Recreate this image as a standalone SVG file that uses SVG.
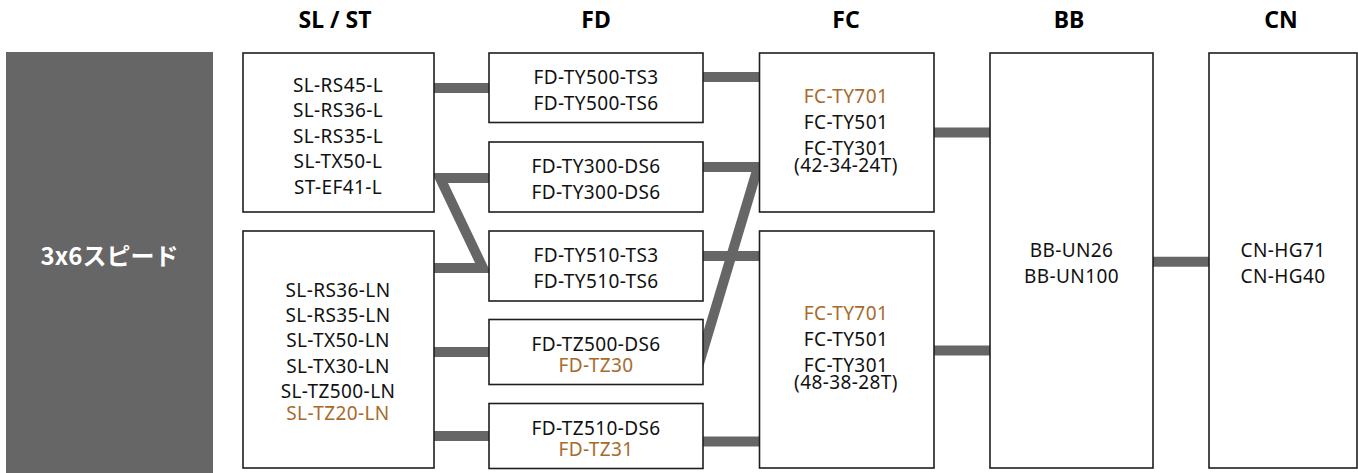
<svg xmlns="http://www.w3.org/2000/svg" width="1358" height="473" viewBox="0 0 1358 473">
<style>
.bx{fill:#fff;stroke:#1e1e1e;stroke-width:1.6}
.hd{font-family:"Noto Sans","Open Sans",sans-serif;font-weight:700;font-size:23px;fill:#000;text-anchor:middle}
.t{font-family:"Noto Sans","Open Sans",sans-serif;font-size:19px;letter-spacing:0.4px;fill:#111;text-anchor:middle}
.o{fill:#a86a2c}
.c{fill:none;stroke:#666;stroke-width:10;stroke-linejoin:miter;stroke-miterlimit:10}
</style>
<rect width="1358" height="473" fill="#fff"/>
<g id="headers">
<text class="hd" x="335" y="28">SL / ST</text>
<text class="hd" x="596" y="28">FD</text>
<text class="hd" x="846" y="28">FC</text>
<text class="hd" x="1069" y="28">BB</text>
<text class="hd" x="1281" y="28">CN</text>
</g>
<g id="connectors">
<line class="c" x1="430" y1="88" x2="493" y2="88"/>
<line class="c" x1="699" y1="77" x2="763" y2="77"/>
<polyline class="c" points="493,178 440,178 483,268 430,268"/>
<polyline class="c" points="699,167 758,167 698,367"/>
<line class="c" x1="699" y1="256" x2="763" y2="256"/>
<line class="c" x1="430" y1="352" x2="493" y2="352"/>
<line class="c" x1="430" y1="436" x2="493" y2="436"/>
<line class="c" x1="699" y1="441.5" x2="763" y2="441.5"/>
<line class="c" x1="930" y1="132.5" x2="994" y2="132.5"/>
<line class="c" x1="930" y1="350.5" x2="994" y2="350.5"/>
<line class="c" x1="1149" y1="261.7" x2="1213" y2="261.7"/>
</g>
<g id="speed">
<rect x="6" y="52" width="207" height="421" fill="#666"/>
<text x="109.5" y="265" font-family="'Noto Sans CJK JP',sans-serif" font-weight="700" font-size="24" fill="#fff" text-anchor="middle">3x6スピード</text>
</g>
<g id="sl1">
<rect class="bx" x="243" y="53" width="191" height="159"/>
<text class="t" x="338"><tspan x="338" y="91.5">SL-RS45-L</tspan><tspan x="338" y="117">SL-RS36-L</tspan><tspan x="338" y="142.5">SL-RS35-L</tspan><tspan x="338" y="168">SL-TX50-L</tspan><tspan x="338" y="193.5">ST-EF41-L</tspan></text>
</g>
<g id="sl2">
<rect class="bx" x="243" y="231" width="191" height="237"/>
<text class="t" x="338"><tspan x="338" y="296.7">SL-RS36-LN</tspan><tspan x="338" y="321.7">SL-RS35-LN</tspan><tspan x="338" y="347">SL-TX50-LN</tspan><tspan x="338" y="372.7">SL-TX30-LN</tspan><tspan x="338" y="397.7">SL-TZ500-LN</tspan><tspan class="o" x="338" y="420">SL-TZ20-LN</tspan></text>
</g>
<g id="fd1">
<rect class="bx" x="489" y="53" width="214" height="69.5"/>
<text class="t"><tspan x="596" y="84">FD-TY500-TS3</tspan><tspan x="596" y="110">FD-TY500-TS6</tspan></text>
</g>
<g id="fd2">
<rect class="bx" x="489" y="142" width="214" height="70"/>
<text class="t"><tspan x="596" y="173">FD-TY300-DS6</tspan><tspan x="596" y="199">FD-TY300-DS6</tspan></text>
</g>
<g id="fd3">
<rect class="bx" x="489" y="231" width="214" height="70"/>
<text class="t"><tspan x="596" y="262">FD-TY510-TS3</tspan><tspan x="596" y="288">FD-TY510-TS6</tspan></text>
</g>
<g id="fd4">
<rect class="bx" x="489" y="319.5" width="214" height="65"/>
<text class="t"><tspan x="596" y="350.7">FD-TZ500-DS6</tspan><tspan class="o" x="596" y="371.7">FD-TZ30</tspan></text>
</g>
<g id="fd5">
<rect class="bx" x="489" y="403.5" width="214" height="65"/>
<text class="t"><tspan x="596" y="435">FD-TZ510-DS6</tspan><tspan class="o" x="596" y="456">FD-TZ31</tspan></text>
</g>
<g id="fc1">
<rect class="bx" x="759.5" y="53" width="174.5" height="159"/>
<text class="t"><tspan class="o" x="846" y="103.3">FC-TY701</tspan><tspan x="846" y="129.3">FC-TY501</tspan><tspan x="846" y="155">FC-TY301</tspan><tspan x="846" y="171.7">(42-34-24T)</tspan></text>
</g>
<g id="fc2">
<rect class="bx" x="759.5" y="231" width="174.5" height="237"/>
<text class="t"><tspan class="o" x="846" y="320">FC-TY701</tspan><tspan x="846" y="346">FC-TY501</tspan><tspan x="846" y="371.7">FC-TY301</tspan><tspan x="846" y="388.7">(48-38-28T)</tspan></text>
</g>
<g id="bb">
<rect class="bx" x="990" y="53" width="163" height="415"/>
<text class="t"><tspan x="1071.5" y="256.7">BB-UN26</tspan><tspan x="1071.5" y="282.7">BB-UN100</tspan></text>
</g>
<g id="cn">
<rect class="bx" x="1209" y="53" width="148" height="415"/>
<text class="t"><tspan x="1283" y="256.7">CN-HG71</tspan><tspan x="1283" y="282.7">CN-HG40</tspan></text>
</g>
</svg>
